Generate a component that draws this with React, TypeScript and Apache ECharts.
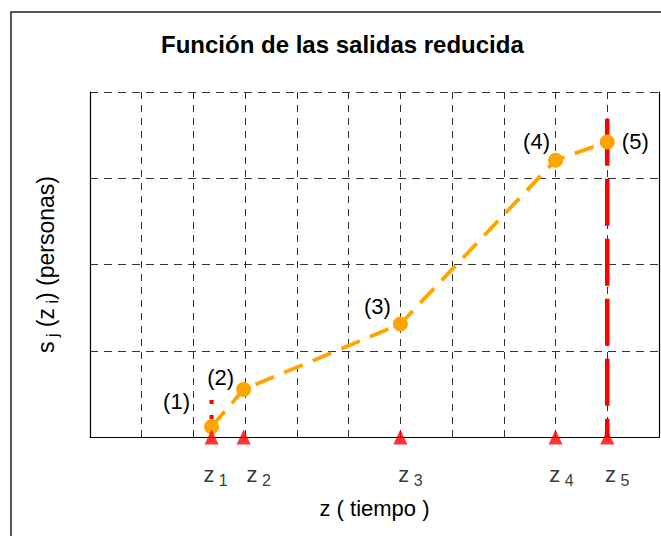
import React, { useEffect, useRef } from 'react';
import * as echarts from 'echarts';

// ---- data ----
const pointLabels = ['(1)', '(2)', '(3)', '(4)', '(5)'];
const zValues = [2.35, 2.97, 6.0, 9.0, 10.0];
const sValues = [0.12, 0.55, 1.31, 3.21, 3.42];
const zTickLabels = ['1', '2', '3', '4', '5'];
const z5LineTop = 3.69;
const z1LineTop = 0.43;
const xMin = 0;
const xMax = 11;
const yMin = 0;
const yMax = 4;

// ---- layout / style (not data) ----
const labelOffsets = [[-35, -25], [-23, -12], [-23, -18], [-19, -19], [28, -1]];
const tickLabelOffsets = [4, 15, 10, 6, 10];
const FONT = '"Liberation Sans", Arial, Helvetica, sans-serif';
const ORANGE = '#FFA500';
const RED = '#FF0000';

export default function App() {
  const ref = useRef<HTMLDivElement>(null);
  useEffect(() => {
    if (!ref.current) return;
    const chart = echarts.init(ref.current, undefined, { renderer: 'svg' });
    const option: any = {
      animation: false,
      backgroundColor: '#ffffff',
      title: {
        text: 'Función de las salidas reducida',
        left: 161,
        top: 32,
        padding: 0,
        textStyle: { fontFamily: FONT, fontSize: 24, fontWeight: 'bold', color: '#000' },
      },
      grid: { left: 90, top: 92, right: 2, bottom: 99 },
      xAxis: {
        type: 'value',
        min: xMin,
        max: xMax,
        interval: 1,
        name: 'z ( tiempo )',
        nameLocation: 'middle',
        nameGap: 60,
        nameTextStyle: { fontFamily: FONT, fontSize: 22, color: '#000' },
        axisLine: { show: true, lineStyle: { color: '#000', width: 1.2 } },
        axisTick: { show: false },
        axisLabel: { show: false },
        splitLine: { show: true, lineStyle: { color: '#333', width: 1, type: [7, 6] } },
      },
      yAxis: [
        {
          type: 'value',
          min: yMin,
          max: yMax,
          interval: 1,
          name: '{a|s}{b| j}{a| (z}{b| i}{a|) (personas)}',
          nameLocation: 'middle',
          nameRotate: 90,
          nameGap: 30,
          nameTextStyle: {
            fontFamily: FONT,
            fontSize: 23,
            color: '#000',
            rich: {
              a: { fontFamily: FONT, fontSize: 23, color: '#000', lineHeight: 28 },
              b: { fontFamily: FONT, fontSize: 16, color: '#000', verticalAlign: 'bottom' },
            },
          },
          axisLine: { show: true, lineStyle: { color: '#000', width: 1.2 } },
          axisTick: { show: false },
          axisLabel: { show: false },
          splitLine: { show: true, lineStyle: { color: '#333', width: 1, type: [8, 6] } },
        },
        {
          type: 'value',
          position: 'right',
          min: yMin,
          max: yMax,
          interval: 1,
          axisLine: { show: true, lineStyle: { color: '#000', width: 1.2 } },
          axisTick: { show: false },
          axisLabel: { show: false },
          splitLine: { show: false },
        },
      ],
      graphic: [
        {
          type: 'rect',
          silent: true,
          z: -10,
          shape: { x: 11, y: 12, width: 700, height: 600 },
          style: { fill: 'none', stroke: '#222', lineWidth: 1.5 },
        },
      ],
      series: [
        {
          type: 'line',
          data: [[zValues[4], z5LineTop], [zValues[4], 0]],
          symbol: 'none',
          silent: true,
          z: 2,
          lineStyle: { color: RED, width: 4.5, type: [47, 13] },
        },
        {
          type: 'line',
          data: [[zValues[0], z1LineTop], [zValues[0], 0]],
          symbol: 'none',
          silent: true,
          z: 2,
          lineStyle: { color: RED, width: 4, type: [4, 11] },
        },
        {
          type: 'line',
          z: 3,
          silent: true,
          symbol: 'circle',
          symbolSize: 15,
          itemStyle: { color: ORANGE },
          lineStyle: { color: ORANGE, width: 3.8, type: [20, 11] },
          label: {
            show: true,
            position: 'inside',
            fontFamily: FONT,
            fontSize: 22,
            color: '#000',
          },
          data: zValues.map((z, i) => ({
            value: [z, sValues[i]],
            label: { offset: labelOffsets[i], formatter: pointLabels[i] },
          })),
        },
        {
          type: 'scatter',
          z: 4,
          silent: true,
          clip: false,
          symbol: 'triangle',
          symbolSize: [14, 15],
          itemStyle: { color: RED },
          label: {
            show: true,
            position: 'inside',
            rich: {
              z: { fontFamily: FONT, fontSize: 22, color: '#000', lineHeight: 28 },
              s: { fontFamily: FONT, fontSize: 16, color: '#000', verticalAlign: 'bottom' },
            },
          },
          data: zValues.map((z, i) => ({
            value: [z, 0],
            label: {
              offset: [tickLabelOffsets[i], 37],
              formatter: `{z|z}{s| ${zTickLabels[i]}}`,
            },
          })),
        },
      ],
    };
    chart.setOption(option);
    return () => chart.dispose();
  }, []);
  return (
    <div
      ref={ref}
      style={{ position: 'absolute', left: 0, top: 0, width: 661, height: 536 }}
    />
  );
}
